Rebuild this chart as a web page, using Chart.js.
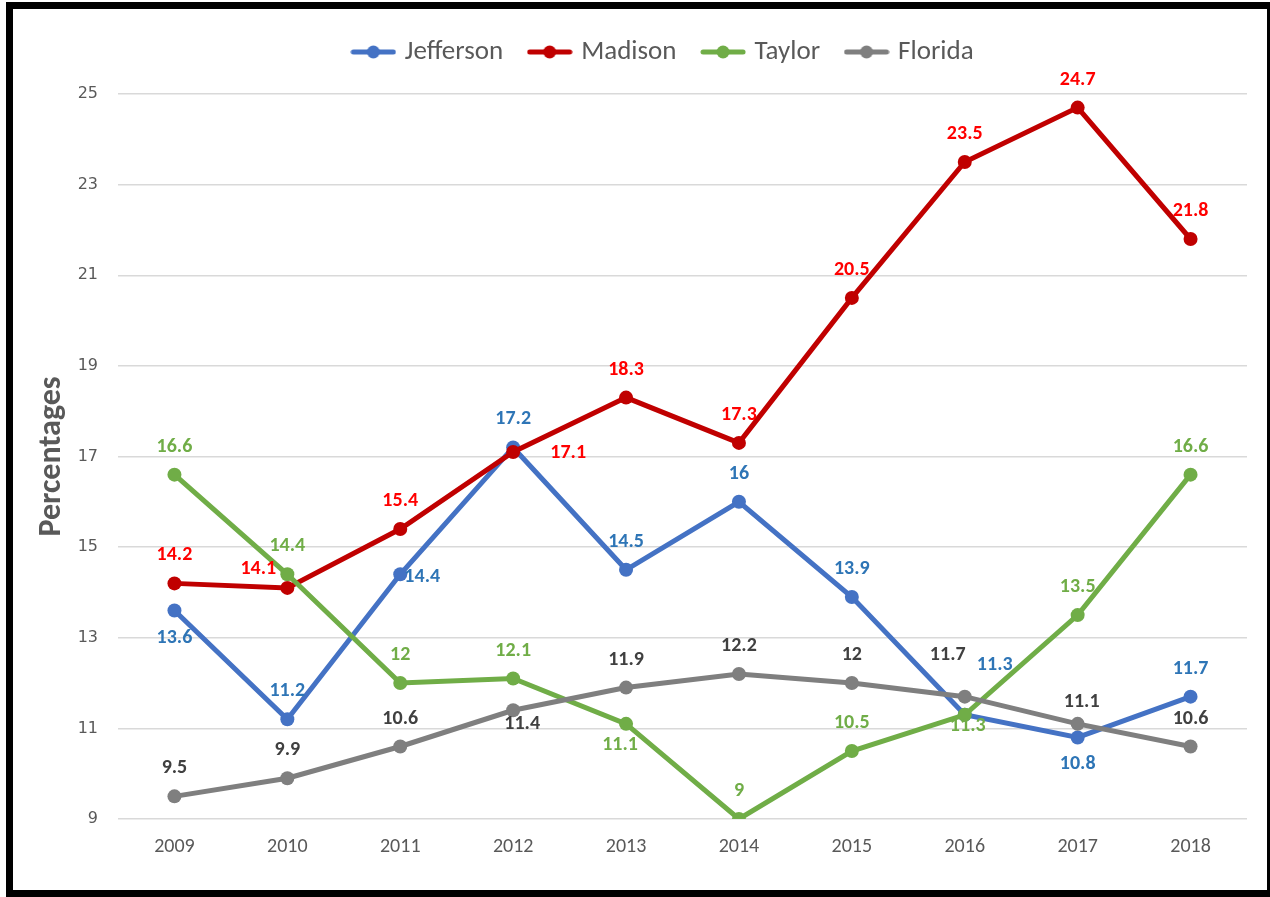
<!DOCTYPE html>
<html>
<head>
<meta charset="utf-8">
<script src="https://cdn.jsdelivr.net/npm/chart.js@4/dist/chart.umd.min.js"></script>
<style>
  html, body { margin: 0; padding: 0; background: #fff; }
  #wrap { position: relative; width: 1270px; height: 897px; overflow: hidden; }
  #chart { position: absolute; left: 0; top: 0; }
  .frame {
    position: absolute; left: 6px; top: 2px; width: 1264px; height: 895px;
    box-sizing: border-box; border-style: solid; border-color: #000;
    border-width: 7px 3px 7px 7px; pointer-events: none;
  }
</style>
</head>
<body>
<div id="wrap">
  <canvas id="chart" width="1270" height="897"></canvas>
  <div class="frame"></div>
</div>
<script>
// ---- datos ----
const years     = ['2009', '2010', '2011', '2012', '2013', '2014', '2015', '2016', '2017', '2018'];
const jefferson = [13.6, 11.2, 14.4, 17.2, 14.5, 16, 13.9, 11.3, 10.8, 11.7];
const madison   = [14.2, 14.1, 15.4, 17.1, 18.3, 17.3, 20.5, 23.5, 24.7, 21.8];
const taylor    = [16.6, 14.4, 12, 12.1, 11.1, 9, 10.5, 11.3, 13.5, 16.6];
const florida   = [9.5, 9.9, 10.6, 11.4, 11.9, 12.2, 12, 11.7, 11.1, 10.6];
const yTicks    = [9, 11, 13, 15, 17, 19, 21, 23, 25];

// donde va cada etiqueta respecto a su punto
const posJefferson = ['b', 'a', 'r', 'a', 'a', 'a', 'a', 'ur', 'b', 'a'];
const posMadison   = ['a', 'ul', 'a', 'rr', 'a', 'a', 'a', 'a', 'a', 'a'];
const posTaylor    = ['a', 'a', 'a', 'a', 'b3', 'a', 'a', 'c', 'a', 'a'];
const posFlorida   = ['a', 'a', 'a', 'b2', 'a', 'a', 'a', 'ul2', 'a2', 'a'];
const nudge = {
  a: [0, -28], b: [0, 27], r: [22, 3], rr: [55, 1], ul: [-29, -19], ur: [30, -50],
  ul2: [-17, -42], a2: [4, -22], b2: [9, 14], b3: [-6, 21], c: [3, 11]
};

const FONT = 'Carlito, Lato, sans-serif';

// marcador de leyenda: línea con punto
function marker(color) {
  const c = document.createElement('canvas');
  c.width = 46; c.height = 16;
  const g = c.getContext('2d');
  g.strokeStyle = color; g.lineWidth = 5; g.lineCap = 'round';
  g.beginPath(); g.moveTo(3, 8); g.lineTo(43, 8); g.stroke();
  g.fillStyle = color;
  g.beginPath(); g.arc(23, 8, 6.5, 0, Math.PI * 2); g.fill();
  return c;
}

function serie(label, data, color, labelColor, pos, order) {
  return {
    label, data, order,
    borderColor: color, backgroundColor: color,
    borderWidth: 5, tension: 0,
    pointRadius: 7, pointBorderWidth: 0, pointBackgroundColor: color,
    labelColor, pos, marker: marker(color)
  };
}

const etiquetas = {
  id: 'etiquetas',
  afterDatasetsDraw(chart) {
    const ctx = chart.ctx;
    ctx.save();
    ctx.font = 'bold 20px ' + FONT;
    ctx.textAlign = 'center';
    ctx.textBaseline = 'middle';
    chart.data.datasets.forEach((ds, i) => {
      const meta = chart.getDatasetMeta(i);
      ctx.fillStyle = ds.labelColor;
      meta.data.forEach((pt, j) => {
        const [dx, dy] = nudge[ds.pos[j]];
        ctx.fillText(String(ds.data[j]), pt.x + dx, pt.y + dy);
      });
    });
    ctx.restore();
  }
};

// más espacio bajo la leyenda y leyenda algo corrida a la derecha
const leyenda = {
  id: 'leyenda',
  beforeInit(chart) {
    const fit = chart.legend.fit;
    chart.legend.fit = function () {
      fit.bind(chart.legend)();
      this.height += 18.5;
    };
  },
  afterLayout(chart) {
    chart.legend.left += 35;
    chart.legend.right += 35;
  }
};

new Chart(document.getElementById('chart'), {
  type: 'line',
  data: {
    labels: years,
    datasets: [
      serie('Jefferson', jefferson, '#4472C4', '#2E75B6', posJefferson, 4),
      serie('Madison',   madison,   '#C00000', '#FF0000', posMadison,   3),
      serie('Taylor',    taylor,    '#70AD47', '#70AD47', posTaylor,    2),
      serie('Florida',   florida,   '#7F7F7F', '#404040', posFlorida,   1),
    ]
  },
  options: {
    responsive: false,
    animation: false,
    layout: { padding: { left: 12, right: 23, top: 10, bottom: 0 } },
    plugins: {
      tooltip: { enabled: false },
      legend: {
        position: 'top',
        labels: {
          usePointStyle: true,
          pointStyleWidth: 36,
          padding: 28.5,
          color: '#595959',
          font: { family: FONT, size: 27 },
          generateLabels(chart) {
            return Chart.defaults.plugins.legend.labels.generateLabels(chart)
              .sort((a, b) => a.datasetIndex - b.datasetIndex)
              .map(it => ({ ...it, pointStyle: chart.data.datasets[it.datasetIndex].marker }));
          }
        }
      }
    },
    scales: {
      x: {
        offset: true,
        grid: { display: false },
        border: { display: false },
        ticks: { color: '#595959', padding: 8, font: { family: FONT, size: 20 } },
        afterFit(scale) { scale.height = 78; }
      },
      y: {
        min: 9, max: 25,
        afterBuildTicks(scale) { scale.ticks = yTicks.map(v => ({ value: v })); },
        grid: { color: '#D9D9D9', lineWidth: 1.5, drawTicks: false },
        border: { display: false },
        ticks: { color: '#595959', padding: 20, font: { family: 'DejaVu Sans', size: 16 } },
        title: {
          display: true, text: 'Percentages', color: '#595959',
          font: { family: FONT, size: 32, weight: 'bold' },
          padding: { top: 21, bottom: 0 }
        },
        afterFit(scale) { scale.width = 106; }
      }
    }
  },
  plugins: [etiquetas, leyenda]
});
</script>
</body>
</html>
